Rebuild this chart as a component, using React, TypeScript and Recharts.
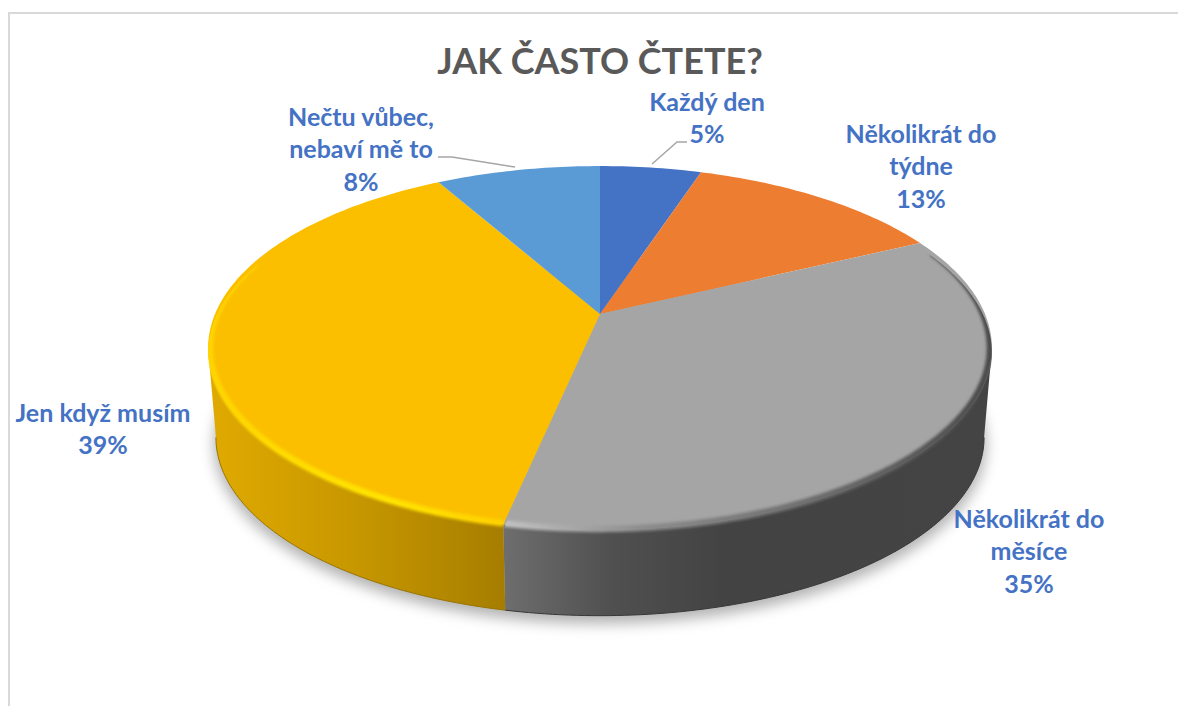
import React from "react";
import { PieChart, Pie } from "recharts";

const categories = ["Každý den", "Několikrát do týdne", "Několikrát do měsíce", "Jen když musím", "Nečtu vůbec, nebaví mě to"];
const values = [5, 12.8, 35.49, 38.6, 8.11];
const colors = ["#4472C4", "#ED7D31", "#A5A5A5", "#FBBF00", "#5B9BD5"];
const labelLines = [["Každý den"], ["Několikrát do", "týdne"], ["Několikrát do", "měsíce"], ["Jen když musím"], ["Nečtu vůbec,", "nebaví mě to"]];
const labelX = [707, 921, 1029, 103, 361];
const labelY = [102, 134, 519, 413, 117];
const leaders = [["652,164 677,142 687,142"], [], [], [], ["438,157 452,157 515,167"]];

const W = 1178, H = 706;
const CX = 600, CY = 314, RX = 385, K = 175.6, P = 0.187;
const WALL_DY = 90, WALL_SCALE = 0.98;

const rows = categories.map((name, i) => ({ name, value: values[i] }));
const disc = [{ name: "all", value: values.reduce((a, b) => a + b, 0) }];

const pt = (deg: number, s = 1, dy = 0): [number, number] => {
  const t = (deg * Math.PI) / 180;
  const w = 1 + P * Math.cos(t);
  return [CX + (s * RX * Math.sin(t)) / w, CY + dy - (s * K * Math.cos(t)) / w];
};
const arcPts = (a: number, b: number, s = 1, dy = 0) => {
  const n = Math.max(2, Math.ceil(Math.abs(b - a)));
  const out: [number, number][] = [];
  for (let i = 0; i <= n; i++) out.push(pt(a + ((b - a) * i) / n, s, dy));
  return out;
};
const toPath = (p: [number, number][]) => p.map((q, i) => `${i ? "L" : "M"}${q[0].toFixed(2)} ${q[1].toFixed(2)}`).join(" ");
const theta = (props: any) => [90 - props.startAngle, 90 - props.endAngle];

const ShadowShape = () => (
  <path d={toPath(arcPts(0, 360, 0.985, WALL_DY + 7)) + " Z"} fill="#000" fillOpacity={0.3} filter="url(#softShadow)" />
);

const wallFill = ["none", "none", "url(#wallGrey)", "url(#wallGold)", "none"];
const wallEdge = ["none", "none", "#383838", "#9a7400", "none"];
const WallShape = (props: any) => {
  const [a, b] = theta(props);
  const lo = Math.max(a, 100.8), hi = Math.min(b, 259.2);
  const i = props.index;
  if (hi <= lo || wallFill[i] === "none") return <g />;
  const upper = arcPts(lo, hi);
  const lower = arcPts(lo, hi, WALL_SCALE, WALL_DY);
  return (
    <g>
      <path d={toPath([...upper, ...lower.slice().reverse()]) + " Z"} fill={wallFill[i]} />
      <path d={toPath(lower)} fill="none" stroke={wallEdge[i]} strokeWidth={1} />
    </g>
  );
};

const rimStroke = ["none", "none", "url(#rimGrey)", "url(#rimGold)", "none"];
const rimFrom = [0, 0, 68, 0, 0];
const rimTo = [0, 0, 360, 288, 0];
const TopShape = (props: any) => {
  const [a, b] = theta(props);
  const i = props.index;
  const lo = Math.max(a, rimFrom[i]), hi = Math.min(b, rimTo[i]);
  const clip = `sliceClip${i}`;
  const face = toPath([[CX, CY], ...arcPts(a, b)]) + " Z";
  return (
    <g>
      <clipPath id={clip}>
        <path d={toPath([[CX, CY], ...arcPts(a, b, 1, 5)]) + " Z"} />
      </clipPath>
      <path d={face} fill={colors[i]} />
      {hi > lo && rimStroke[i] !== "none" && (
        <g clipPath={`url(#${clip})`}>
          <path d={toPath(arcPts(lo, hi, 0.995, 0))} fill="none" stroke={rimStroke[i]} strokeWidth={6.5} filter="url(#rimBlur)" />
        </g>
      )}
    </g>
  );
};

const FONT = "Lato, Carlito, sans-serif";
const renderLabel = (props: any) => {
  const i = props.index;
  const lines = [...labelLines[i], `${Math.round(values[i])}%`];
  return (
    <g key={`lab${i}`}>
      {leaders[i].map((pts, j) => (
        <polyline key={j} points={pts} fill="none" stroke="#A6A6A6" strokeWidth={1.5} />
      ))}
      <text textAnchor="middle" fill="#4472C4" fontFamily={FONT} fontWeight={700} fontSize={25}>
        {lines.map((t, j) => (
          <tspan key={j} x={labelX[i]} y={labelY[i] + j * 32.6 + 8.5}>{t}</tspan>
        ))}
      </text>
    </g>
  );
};

export default function App() {
  const common = { cx: CX, cy: CY, outerRadius: RX, innerRadius: 0, startAngle: 90, endAngle: -270, dataKey: "value", isAnimationActive: false, stroke: "none" } as const;
  return (
    <div style={{ position: "absolute", left: 0, top: 0, width: W, height: H, overflow: "hidden", background: "#fff" }}>
      <div style={{ position: "absolute", left: 8, top: 12, width: W - 8, height: H - 12, boxSizing: "border-box", borderLeft: "2px solid #D9D9D9", borderTop: "2px solid #D9D9D9" }} />
      <div style={{ position: "absolute", left: 0, width: 1200, top: 36, textAlign: "center", color: "#595959", fontFamily: FONT, fontWeight: 700, fontSize: 36, lineHeight: "48px" }}>JAK ČASTO ČTETE?</div>
      <div style={{ position: "absolute", left: 0, top: 0 }}>
        <PieChart width={W} height={H} margin={{ top: 0, right: 0, bottom: 0, left: 0 }}>
          <defs>
            <filter id="softShadow" filterUnits="userSpaceOnUse" x="0" y="0" width={W} height={H}>
              <feGaussianBlur stdDeviation="7" />
            </filter>
            <filter id="rimBlur" filterUnits="userSpaceOnUse" x="0" y="0" width={W} height={H}>
              <feGaussianBlur stdDeviation="1.6" />
            </filter>
            <linearGradient id="wallGold" gradientUnits="userSpaceOnUse" x1="208" y1="0" x2="505" y2="0">
              <stop offset="0" stopColor="#E0AA00" />
              <stop offset="0.5" stopColor="#C79700" />
              <stop offset="1" stopColor="#A67D00" />
            </linearGradient>
            <linearGradient id="wallGrey" gradientUnits="userSpaceOnUse" x1="503" y1="0" x2="992" y2="0">
              <stop offset="0" stopColor="#6E6E6E" />
              <stop offset="0.22" stopColor="#505050" />
              <stop offset="0.45" stopColor="#434343" />
              <stop offset="1" stopColor="#444444" />
            </linearGradient>
            <linearGradient id="rimGold" gradientUnits="userSpaceOnUse" x1="208" y1="0" x2="505" y2="0">
              <stop offset="0" stopColor="#FFD400" />
              <stop offset="0.6" stopColor="#FFE400" />
              <stop offset="1" stopColor="#FFD000" />
            </linearGradient>
            <linearGradient id="rimGrey" gradientUnits="userSpaceOnUse" x1="503" y1="0" x2="992" y2="0">
              <stop offset="0" stopColor="#C2C2C2" />
              <stop offset="0.3" stopColor="#8A8A8A" />
              <stop offset="0.6" stopColor="#707070" />
              <stop offset="1" stopColor="#4A4A4A" />
            </linearGradient>
          </defs>
          <Pie {...common} data={disc} shape={ShadowShape} label={false} labelLine={false} />
          <Pie {...common} data={rows} shape={WallShape} label={false} labelLine={false} />
          <Pie {...common} data={rows} shape={TopShape} label={renderLabel} labelLine={false} />
        </PieChart>
      </div>
    </div>
  );
}
